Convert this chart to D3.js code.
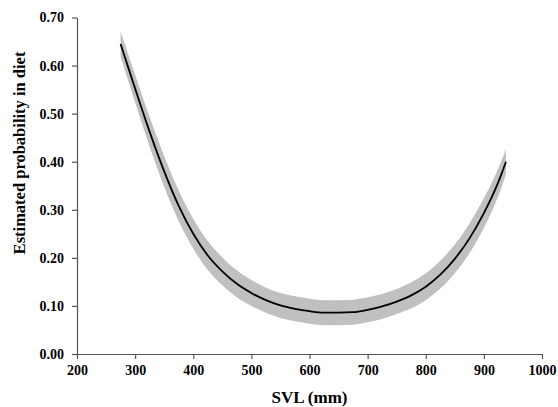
<!DOCTYPE html>
<html>
<head>
<meta charset="utf-8">
<script src="https://cdn.jsdelivr.net/npm/d3@7"></script>
<style>
  body { margin: 0; background: #fff; }
  svg text { font-family: "Liberation Serif", "Times New Roman", serif; font-weight: bold; fill: #000; }
</style>
</head>
<body>
<svg id="chart" width="558" height="407"></svg>
<script>
const width = 558
const height = 407
const margin = { top: 17.5, right: 16, bottom: 53, left: 77 }

// fitted curve
const svl = [275, 300, 325, 350, 375, 400, 425, 450, 475, 500, 525, 550, 575, 600, 625, 650, 675, 700, 725, 750, 775, 800, 825, 850, 875, 900, 925, 938]
const prob = [0.645, 0.552, 0.462, 0.380, 0.308, 0.250, 0.205, 0.172, 0.146, 0.127, 0.112, 0.101, 0.094, 0.089, 0.086, 0.086, 0.087, 0.092, 0.099, 0.109, 0.122, 0.140, 0.165, 0.198, 0.240, 0.293, 0.358, 0.400]
const lower = [0.619, 0.523, 0.431, 0.348, 0.276, 0.219, 0.175, 0.143, 0.118, 0.100, 0.086, 0.075, 0.068, 0.063, 0.060, 0.060, 0.061, 0.066, 0.073, 0.083, 0.095, 0.112, 0.136, 0.168, 0.209, 0.262, 0.329, 0.374]
const upper = [0.671, 0.581, 0.493, 0.412, 0.340, 0.281, 0.235, 0.201, 0.174, 0.154, 0.138, 0.127, 0.120, 0.115, 0.112, 0.112, 0.113, 0.118, 0.125, 0.135, 0.149, 0.168, 0.194, 0.228, 0.271, 0.324, 0.387, 0.426]

const xTicks = [200, 300, 400, 500, 600, 700, 800, 900, 1000]
const yTicks = [0, 0.1, 0.2, 0.3, 0.4, 0.5, 0.6, 0.7]

const svg = d3.select('#chart')

const xScale = d3.scaleLinear().domain([200, 1000]).range([margin.left, width - margin.right])
const yScale = d3.scaleLinear().domain([0, 0.7]).range([height - margin.bottom, margin.top])

/* confidence band */
svg.append('path')
  .datum(svl)
  .attr('fill', '#c0c0c0')
  .attr('d', d3.area()
    .curve(d3.curveMonotoneX)
    .x((d) => xScale(d))
    .y0((d, i) => yScale(lower[i]))
    .y1((d, i) => yScale(upper[i])))

/* fitted line */
svg.append('path')
  .datum(svl)
  .attr('fill', 'none')
  .attr('stroke', '#000')
  .attr('stroke-width', 1.8)
  .attr('d', d3.line()
    .curve(d3.curveMonotoneX)
    .x((d) => xScale(d))
    .y((d, i) => yScale(prob[i])))

/* axes */
const xAxis = svg.append('g')
  .attr('transform', `translate(0, ${height - margin.bottom})`)
  .call(d3.axisBottom(xScale).tickValues(xTicks).tickFormat(d3.format('d')).tickSize(5).tickSizeOuter(0).tickPadding(6))

const yAxis = svg.append('g')
  .attr('transform', `translate(${margin.left}, 0)`)
  .call(d3.axisLeft(yScale).tickValues(yTicks).tickFormat(d3.format('.2f')).tickSize(5).tickSizeOuter(0).tickPadding(8))

for (const ax of [xAxis, yAxis]) {
  ax.select('.domain').attr('stroke', '#555').attr('stroke-width', 1.2)
  ax.selectAll('.tick line').attr('stroke', '#555').attr('stroke-width', 1.2)
  ax.selectAll('.tick text')
    .style('font-family', '"Liberation Serif", serif')
    .style('font-weight', 'bold')
    .style('font-size', '14px')
    .attr('fill', '#000')
}

/* titles */
svg.append('text')
  .attr('x', xScale(600))
  .attr('y', 403)
  .attr('text-anchor', 'middle')
  .style('font-size', '17px')
  .text('SVL (mm)')

svg.append('text')
  .attr('transform', 'translate(25, 153) rotate(-90)')
  .attr('text-anchor', 'middle')
  .style('font-size', '16.5px')
  .text('Estimated probability in diet')
</script>
</body>
</html>
